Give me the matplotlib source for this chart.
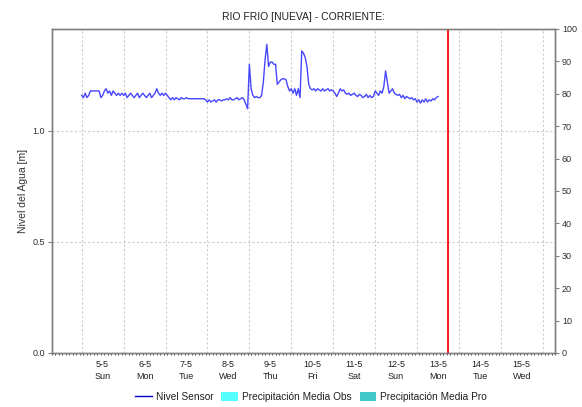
import matplotlib
matplotlib.use("Agg")
import matplotlib.pyplot as plt
import matplotlib.dates as mdates
from matplotlib.lines import Line2D
from matplotlib.patches import Patch
import pandas as pd
import numpy as np

plt.rcParams['font.family'] = ['Liberation Sans', 'DejaVu Sans']

title = "RIO FRIO [NUEVA] - CORRIENTE:"
ylabel = "Nivel del Agua [m]"

# water level, hourly from 5 May 00:00
day5 = [1.16, 1.15, 1.17, 1.15, 1.16, 1.18, 1.18, 1.18, 1.18, 1.18, 1.18, 1.15,
        1.16, 1.18, 1.19, 1.17, 1.18, 1.16, 1.18, 1.17, 1.16, 1.17, 1.16, 1.17]
day6 = [1.16, 1.17, 1.15, 1.16, 1.17, 1.16, 1.15, 1.16, 1.17, 1.15, 1.16, 1.17,
        1.16, 1.15, 1.16, 1.17, 1.15, 1.16, 1.17, 1.19, 1.17, 1.16, 1.17, 1.16]
day7 = [1.17, 1.16, 1.15, 1.14, 1.15, 1.14, 1.15, 1.145, 1.14, 1.15, 1.145, 1.145,
        1.15, 1.145, 1.145, 1.145, 1.145, 1.145, 1.145, 1.145, 1.145, 1.145, 1.145, 1.14]
day8 = [1.13, 1.14, 1.13, 1.135, 1.14, 1.13, 1.14, 1.14, 1.135, 1.14, 1.14, 1.145,
        1.14, 1.15, 1.14, 1.14, 1.145, 1.15, 1.14, 1.145, 1.15, 1.14, 1.12, 1.10]
day9 = [1.30, 1.19, 1.16, 1.15, 1.155, 1.15, 1.15, 1.16, 1.22, 1.32, 1.39, 1.29,
        1.31, 1.31, 1.30, 1.30, 1.21, 1.22, 1.23, 1.235, 1.235, 1.23, 1.20, 1.18]
day10 = [1.19, 1.17, 1.19, 1.16, 1.19, 1.15, 1.36, 1.35, 1.33, 1.29, 1.21, 1.19,
         1.185, 1.19, 1.18, 1.19, 1.185, 1.18, 1.19, 1.18, 1.185, 1.19, 1.18, 1.185]
day11 = [1.18, 1.17, 1.155, 1.17, 1.19, 1.18, 1.185, 1.17, 1.165, 1.17, 1.16, 1.165,
         1.17, 1.16, 1.155, 1.165, 1.16, 1.15, 1.155, 1.165, 1.15, 1.16, 1.15, 1.155]
day12 = [1.18, 1.17, 1.16, 1.18, 1.17, 1.20, 1.27, 1.22, 1.17, 1.18, 1.19, 1.17,
         1.165, 1.16, 1.165, 1.15, 1.16, 1.145, 1.155, 1.15, 1.145, 1.15, 1.14, 1.145]
day13 = [1.13, 1.14, 1.125, 1.14, 1.13, 1.145, 1.13, 1.14, 1.135, 1.145, 1.14, 1.15, 1.155]
level = day5 + day6 + day7 + day8 + day9 + day10 + day11 + day12 + day13

start = "2019-05-05 00:00"
times = pd.date_range(start, periods=len(level), freq="1h")

day_labels = ["5-5\nSun", "6-5\nMon", "7-5\nTue", "8-5\nWed", "9-5\nThu", "10-5\nFri",
              "11-5\nSat", "12-5\nSun", "13-5\nMon", "14-5\nTue", "15-5\nWed"]
label_days = pd.date_range("2019-05-05 12:00", periods=len(day_labels), freq="1D")
grid_days = pd.date_range("2019-05-05 00:00", periods=12, freq="1D")
now_time = pd.Timestamp("2019-05-13 17:30")
xmin = pd.Timestamp("2019-05-04 07:00")
xmax = pd.Timestamp("2019-05-16 07:00")

fig = plt.figure(figsize=(5.82, 4.07), dpi=100)
ax = fig.add_axes([52/582, 54/407, 503/582, 324/407])
ax2 = ax.twinx()

gray = '#808080'
ax.plot(times, level, color='#4646ff', lw=1.0, zorder=3)
ax.axvline(now_time, color='#ff2020', lw=1.5, zorder=4)
ax.axvline(now_time, color='#902020', lw=0.5, ls=(0, (1, 3)), zorder=5)

ax.set_xlim(xmin, xmax)
ax.set_ylim(0, 1.459)
ax.set_yticks([0.0, 0.5, 1.0])
ax.set_yticklabels(["0.0", "0.5", "1.0"])
ax2.set_ylim(0, 100)
ax2.set_yticks(np.arange(0, 101, 10))

for t in grid_days:
    ax.axvline(t, color='#cccccc', lw=0.8, ls=(0, (2, 2)), zorder=1)
for v in [0.5, 1.0]:
    ax.axhline(v, color='#cccccc', lw=0.8, ls=(0, (2, 2)), zorder=1)

ax.set_xticks(label_days)
ax.set_xticklabels(day_labels, linespacing=1.45)
ax.xaxis.set_minor_locator(mdates.HourLocator(interval=2))
ax.tick_params(axis='x', which='major', length=0, labelsize=6.5, pad=5, colors='#202020')
ax.tick_params(axis='x', which='minor', length=1.5, width=0.6, color='#303030')
ax.tick_params(axis='y', length=3, width=0.8, color=gray, labelsize=6.5, labelcolor='#303030', pad=2)
ax2.tick_params(axis='y', length=3, width=0.8, color=gray, labelsize=6.5, labelcolor='#303030', pad=2)

for a in (ax, ax2):
    for s in a.spines.values():
        s.set_color(gray)
        s.set_linewidth(1.0)

ax.set_ylabel(ylabel, fontsize=7.5, color='#303030', labelpad=3)
fig.text(303/582, 1 - 17/407, title, ha='center', va='center', fontsize=7.5, color='#202020')

handles = [Line2D([0], [0], color='#0000cc', lw=1.0),
           Patch(facecolor='#55ffff', edgecolor='none'),
           Patch(facecolor='#40c8c8', edgecolor='none')]
labels = ["Nivel Sensor", "Precipitación Media Obs", "Precipitación Media Pro"]
fig.legend(handles, labels, loc='center', bbox_to_anchor=(311/582, 1 - 397/407), ncol=3,
           frameon=False, fontsize=7.3, handlelength=1.6, handletextpad=0.4, columnspacing=0.8,
           handleheight=0.9, labelcolor='#202020')

fig.savefig("out.png", dpi=100)
